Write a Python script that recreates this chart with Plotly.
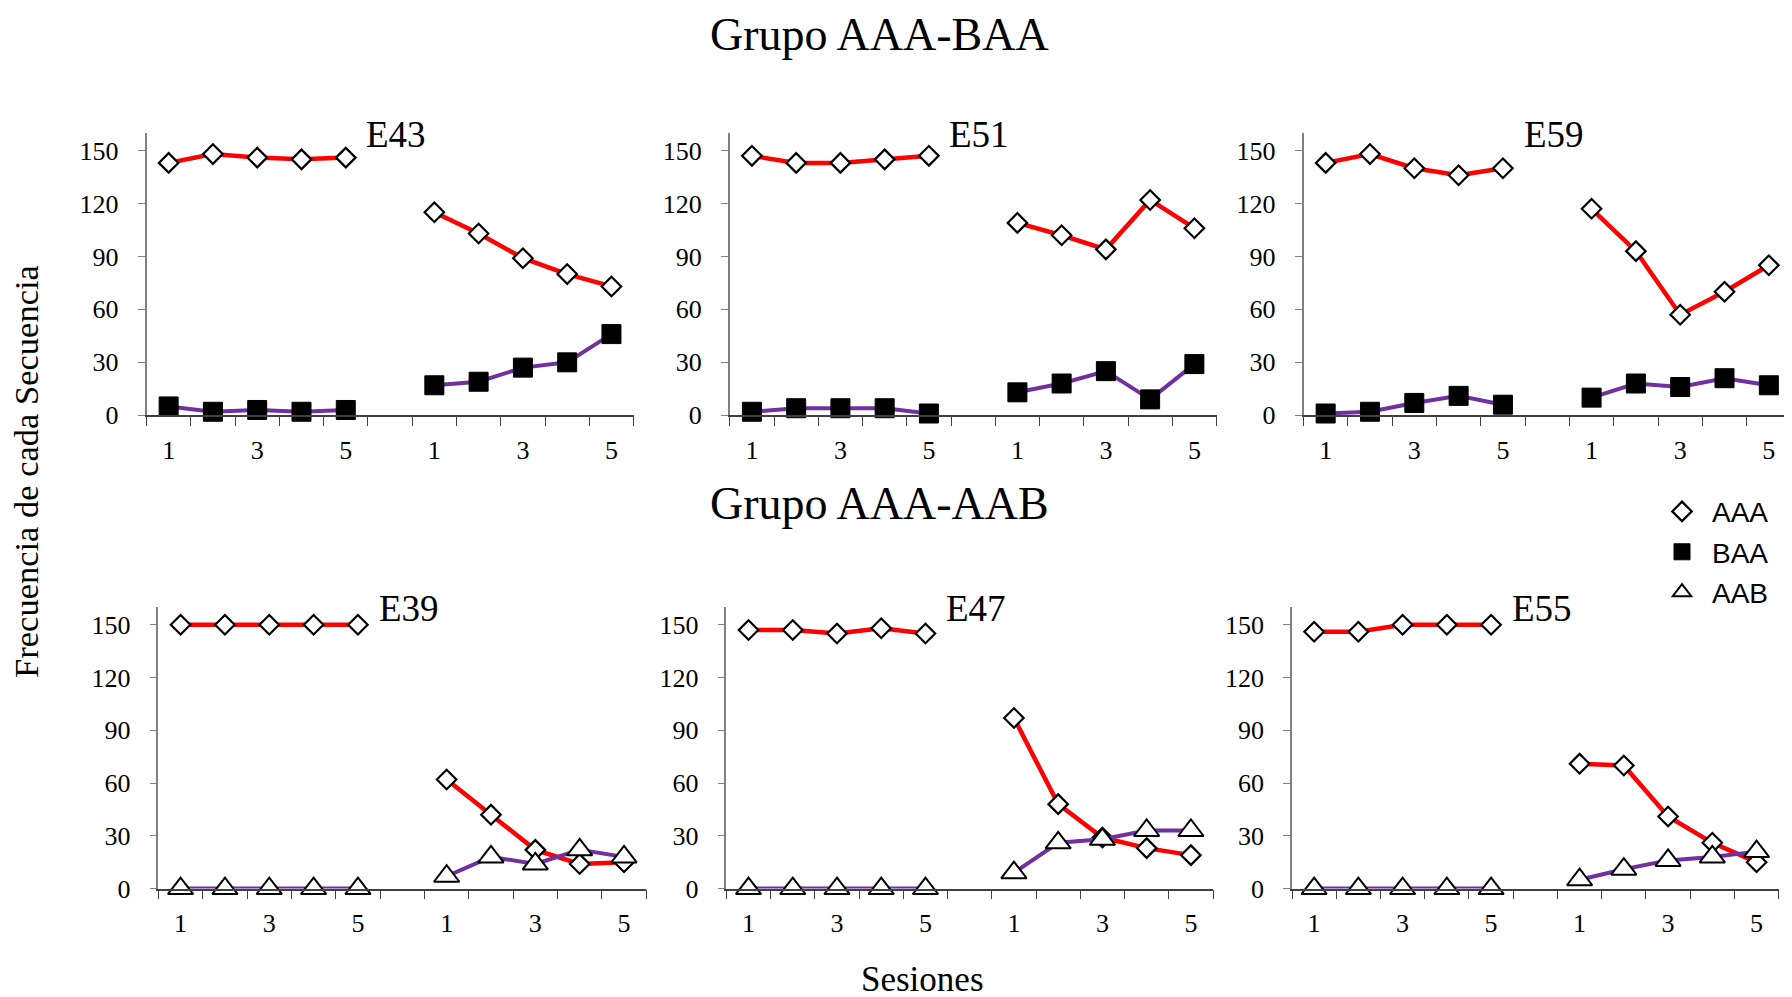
import plotly.graph_objects as go

# ---------------- data ----------------
sessions = [1, 2, 3, 4, 5]
session_labels = ["1", "3", "5"]
y_ticks = [0, 30, 60, 90, 120, 150]
group_titles = ["Grupo AAA-BAA", "Grupo AAA-AAB"]
sequence_names = ["AAA", "BAA", "AAB"]

# Grupo AAA-BAA
E43_AAA_base = [143, 148, 146, 145, 146]
E43_AAA_test = [115, 103, 89, 80, 73]
E43_BAA_base = [5, 2, 3, 2, 3]
E43_BAA_test = [17, 19, 27, 30, 46]

E51_AAA_base = [147, 143, 143, 145, 147]
E51_AAA_test = [109, 102, 94, 122, 106]
E51_BAA_base = [2, 4, 4, 4, 1]
E51_BAA_test = [13, 18, 25, 9, 29]

E59_AAA_base = [143, 148, 140, 136, 140]
E59_AAA_test = [117, 93, 57, 70, 85]
E59_BAA_base = [1, 2, 7, 11, 6]
E59_BAA_test = [10, 18, 16, 21, 17]

# Grupo AAA-AAB
E39_AAA_base = [150, 150, 150, 150, 150]
E39_AAA_test = [62, 42, 22, 14, 15]
E39_AAB_base = [0, 0, 0, 0, 0]
E39_AAB_test = [7, 18, 14, 22, 18]

E47_AAA_base = [147, 147, 145, 148, 145]
E47_AAA_test = [97, 48, 29, 23, 19]
E47_AAB_base = [0, 0, 0, 0, 0]
E47_AAB_test = [9, 26, 28, 33, 33]

E55_AAA_base = [146, 146, 150, 150, 150]
E55_AAA_test = [71, 70, 41, 26, 15]
E55_AAB_base = [0, 0, 0, 0, 0]
E55_AAB_test = [5, 11, 16, 18, 21]

# ---------------- layout / style ----------------
W, H = 1792, 997
RED = "#FF0000"
PURPLE = "#7030A0"
SERIF = "Liberation Serif"
SANS = "Liberation Sans"

phase_gap = 1
n_slots = 2 * len(sessions) + phase_gap
x_base = list(sessions)
x_test = [s + len(sessions) + phase_gap for s in sessions]

marker_styles = {
    "AAA": dict(symbol="diamond", size=15, color="white", line=dict(color="black", width=2.2)),
    "BAA": dict(symbol="square", size=19, color="black", line=dict(color="black", width=1)),
    "AAB": dict(symbol="triangle-up", size=22, color="white", line=dict(color="black", width=2)),
}
line_styles = {
    "AAA": dict(color=RED, width=4.5),
    "BAA": dict(color=PURPLE, width=4),
    "AAB": dict(color=PURPLE, width=4),
}

# panel pixel boxes: (left, right, top, bottom)
TOP_ROW = (126.8, 413.5)
BOT_ROW = (608.3, 894.0)
panels = [
    ("E43", "BAA", E43_AAA_base, E43_AAA_test, E43_BAA_base, E43_BAA_test, (138.5, 625.6) + TOP_ROW),
    ("E51", "BAA", E51_AAA_base, E51_AAA_test, E51_BAA_base, E51_BAA_test, (721.8, 1208.5) + TOP_ROW),
    ("E59", "BAA", E59_AAA_base, E59_AAA_test, E59_BAA_base, E59_BAA_test, (1295.5, 1783.0) + TOP_ROW),
    ("E39", "AAB", E39_AAA_base, E39_AAA_test, E39_AAB_base, E39_AAB_test, (150.4, 638.2) + BOT_ROW),
    ("E47", "AAB", E47_AAA_base, E47_AAA_test, E47_AAB_base, E47_AAB_test, (718.4, 1205.0) + BOT_ROW),
    ("E55", "AAB", E55_AAA_base, E55_AAA_test, E55_AAB_base, E55_AAB_test, (1284.0, 1770.7) + BOT_ROW),
]

fig = go.Figure()
annotations = []
layout_axes = {}

for i, (label, other, aaa_b, aaa_t, oth_b, oth_t, box) in enumerate(panels, start=1):
    xa = "x" if i == 1 else f"x{i}"
    ya = "y" if i == 1 else f"y{i}"
    for seq, xs, ys in [("AAA", x_base, aaa_b), ("AAA", x_test, aaa_t),
                        (other, x_base, oth_b), (other, x_test, oth_t)]:
        fig.add_trace(go.Scatter(
            x=xs, y=ys, mode="lines+markers", xaxis=xa, yaxis=ya,
            line=line_styles[seq], marker=marker_styles[seq],
            showlegend=False, cliponaxis=False, hoverinfo="x+y", name=seq))
    l, r, t, b = box
    xdom = [l / W, r / W]
    ydom = [1 - b / H, 1 - t / H]
    xkey = "xaxis" if i == 1 else f"xaxis{i}"
    ykey = "yaxis" if i == 1 else f"yaxis{i}"
    layout_axes[xkey] = dict(
        domain=xdom, anchor=ya, range=[0.5, n_slots + 0.5],
        tickmode="array", tickvals=[x_base[0], x_base[2], x_base[4], x_test[0], x_test[2], x_test[4]],
        ticktext=session_labels + session_labels,
        ticks="outside", ticklen=9, tickcolor="rgba(0,0,0,0)",
        ticklabelstandoff=2,
        showline=True, linecolor="#404040", linewidth=1.5,
        showgrid=False, zeroline=False, fixedrange=True,
        tickfont=dict(family=SERIF, size=26, color="black"),
        minor=dict(tickmode="linear", tick0=0.5, dtick=1, ticks="outside",
                   ticklen=9, tickcolor="#404040", tickwidth=1.3, showgrid=False),
    )
    layout_axes[ykey] = dict(
        domain=ydom, anchor=xa, range=[0, 160],
        tickmode="array", tickvals=y_ticks,
        ticks="outside", ticklen=7, tickcolor="#808080", tickwidth=1.3,
        ticklabelstandoff=14,
        showline=True, linecolor="#808080", linewidth=1.5,
        showgrid=False, zeroline=False, fixedrange=True,
        tickfont=dict(family=SERIF, size=26, color="black"),
    )
    annotations.append(dict(
        x=5.42, y=159, xref=xa, yref=ya, text=label, showarrow=False,
        xanchor="left", yanchor="middle",
        font=dict(family=SERIF, size=37, color="black")))

# legend-only entries
for k, seq in enumerate(sequence_names):
    fig.add_trace(go.Scatter(
        x=[None], y=[None], mode="markers", name=seq,
        marker=marker_styles[seq], legendgroup=f"g{k}", showlegend=True))

annotations += [
    dict(x=871.5 / W, y=1.0, xref="paper", yref="paper", text=group_titles[0],
         showarrow=False, xanchor="center", yanchor="top", borderpad=0,
         font=dict(family=SERIF, size=46, color="black")),
    dict(x=871.5 / W, y=1 - 503 / H, xref="paper", yref="paper", text=group_titles[1],
         showarrow=False, xanchor="center", yanchor="middle",
         font=dict(family=SERIF, size=46, color="black")),
    dict(x=18 / W, y=1 - 471 / H, xref="paper", yref="paper", text="Frecuencia de cada Secuencia",
         showarrow=False, xanchor="center", yanchor="middle", textangle=-90,
         font=dict(family=SERIF, size=34.5, color="black")),
    dict(x=914 / W, y=1 - 986 / H, xref="paper", yref="paper", text="Sesiones",
         showarrow=False, xanchor="center", yanchor="middle",
         font=dict(family=SERIF, size=35, color="black")),
]

fig.update_layout(
    width=W, height=H,
    margin=dict(l=0, r=0, t=0, b=0),
    paper_bgcolor="white", plot_bgcolor="white",
    annotations=annotations,
    legend=dict(x=1644 / W, y=1 - 486 / H, xanchor="left", yanchor="top",
                font=dict(family=SANS, size=28, color="black"),
                tracegroupgap=1, bgcolor="rgba(0,0,0,0)", borderwidth=0,
                itemwidth=50),
    showlegend=True,
    **layout_axes,
)

fig.write_html("out.html")
